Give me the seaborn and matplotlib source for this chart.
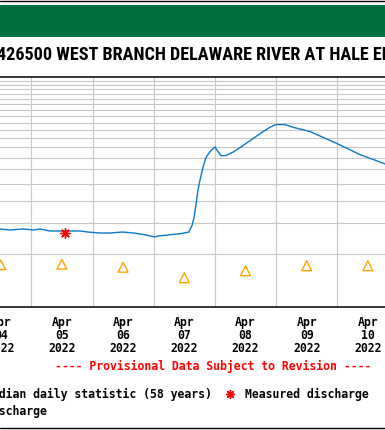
#!/usr/bin/env python3

import matplotlib
matplotlib.use('Agg')
import matplotlib.dates as mdates
from matplotlib.font_manager import FontProperties
from matplotlib.lines import Line2D
from matplotlib.patches import Rectangle
from matplotlib.ticker import FixedLocator, NullFormatter, NullLocator
import matplotlib.pyplot as plt
import pandas as pd
import seaborn as sns


W, H, DPI = 385, 430, 100

TITLE_PREFIX = 'USGS 01'
TITLE_REST = '426500 WEST BRANCH DELAWARE RIVER AT HALE EDDY NY'
PROVISIONAL = '---- Provisional Data Subject to Revision ----'

START = pd.Timestamp('2022-04-04 00:00')
END = pd.Timestamp('2022-04-11 00:00')

# Discharge, hours after Apr 4 00:00 and cubic feet per second
DISCHARGE_HOURS = [0, 11.7, 15.7, 20.8, 24.9, 27.4, 31.3, 43.1, 46.2, 50.9,
                   54.9, 59.6, 64.3, 69.0, 72.5, 73.7, 77.6, 83.1, 85.8, 86.2,
                   87.0, 87.8, 88.6, 89.4, 90.2, 91.3, 92.5, 94.1, 96.0, 97.2,
                   98.4, 100.3, 103.5, 107.0, 111.7, 114.9, 117.6, 120.0, 123.5,
                   126.6, 133.3, 143.9, 152.9, 162.7, 165.5]
DISCHARGE_CFS = [2770, 2770, 2733, 2770, 2733, 2770, 2698, 2698, 2663, 2628,
                 2628, 2663, 2628, 2562, 2496, 2529, 2562, 2615, 2663, 2744,
                 2891, 3208, 3800, 4616, 5259, 6149, 7003, 7569, 8046, 7569,
                 7188, 7188, 7569, 8185, 9120, 9820, 10385, 10754, 10754,
                 10385, 9820, 8400, 7279, 6452, 6229]

# Median daily statistic (58 years), one per day at noon
MEDIAN_DAYS = ['2022-04-04', '2022-04-05', '2022-04-06', '2022-04-07',
               '2022-04-08', '2022-04-09', '2022-04-10']
MEDIAN_CFS = [1741, 1752, 1685, 1470, 1610, 1718, 1718]

# Field measurement
MEASURED_TIME = ['2022-04-05 13:20']
MEASURED_CFS = [2615]

GRID_Y = [2000, 3000, 4000, 5000, 6000, 7000, 8000, 9000, 10000, 11000,
          12000, 13000, 14000, 15000, 16000, 17000, 18000, 19000]

BLUE = '#0a78cc'
ORANGE = '#ffa500'
RED = '#ff0000'
GREEN = '#00703c'
GRID = '#c8c8c8'


def main():
    sns.set_theme(style='white')
    plt.rcParams['font.family'] = ['DejaVu Sans Mono']
    plt.rcParams['text.color'] = 'black'
    plt.rcParams['xtick.color'] = 'black'
    mono = FontProperties(family='DejaVu Sans Mono', weight='bold', size=8.3)
    tprop = FontProperties(family='Roboto Condensed', weight='bold', size=10)

    fig = plt.figure(figsize=(W / DPI, H / DPI), dpi=DPI)
    fig.patch.set_facecolor('white')

    # header band and rules
    fig.add_artist(Rectangle((0, 1 - 36.7 / H), 1, 31.7 / H,
                             transform=fig.transFigure, color=GREEN, lw=0))
    fig.add_artist(Line2D([0, 1], [1 - 0.6 / H] * 2, transform=fig.transFigure,
                          color='black', lw=1.0))
    fig.add_artist(Line2D([0, 1], [1 - 428.3 / H] * 2,
                          transform=fig.transFigure, color='black', lw=1.0))

    # title, placed so the visible part begins where the crop shows it
    renderer = fig.canvas.get_renderer()
    probe = fig.text(0, 0, '426500 WEST BRANCH DELAWARE RIVER AT HALE',
                     fontproperties=tprop)
    tsize = 10 * 372 / probe.get_window_extent(renderer).width
    tprop.set_size(tsize)
    probe.set_fontproperties(tprop)
    probe.set_text(TITLE_PREFIX + '4')
    full = probe.get_window_extent(renderer).width
    probe.set_text('4')
    shift = full - probe.get_window_extent(renderer).width
    probe.remove()
    fig.text((-2.8 - shift) / W, 1 - 60 / H, TITLE_PREFIX + TITLE_REST,
             fontproperties=tprop, color='black', va='baseline', ha='left')

    # plot area extends past both edges of the picture
    left = -29.9 / W
    ax = fig.add_axes([left, 1 - 307.4 / H, 428.4 / W, 230.6 / H])

    discharge = pd.DataFrame({
        'time': START + pd.to_timedelta(DISCHARGE_HOURS, unit='h'),
        'cfs': DISCHARGE_CFS})
    median = pd.DataFrame({
        'time': pd.to_datetime(MEDIAN_DAYS) + pd.Timedelta(hours=12),
        'cfs': MEDIAN_CFS})
    measured = pd.DataFrame({'time': pd.to_datetime(MEASURED_TIME),
                             'cfs': MEASURED_CFS})

    sns.lineplot(ax=ax, data=discharge, x='time', y='cfs', color=BLUE,
                 lw=1.0, zorder=3)
    sns.scatterplot(ax=ax, data=median, x='time', y='cfs', marker='^', s=50,
                    facecolor='none', edgecolor=ORANGE, linewidth=1.0,
                    zorder=4)
    sns.scatterplot(ax=ax, data=measured, x='time', y='cfs',
                    marker=(8, 2, 0), s=45, color=RED, linewidth=1.0,
                    zorder=5)

    ax.set_yscale('log')
    ax.set_ylim(1000, 20000)
    ax.set_xlim(START, END)
    ax.set(xlabel='', ylabel='')

    ax.yaxis.set_major_locator(FixedLocator(GRID_Y))
    ax.yaxis.set_minor_locator(NullLocator())
    ax.yaxis.set_major_formatter(NullFormatter())
    ax.grid(axis='y', which='major', color=GRID, lw=0.8)

    noons = pd.date_range('2022-04-04 12:00', periods=7, freq='D')
    nights = pd.date_range('2022-04-05', periods=6, freq='D')
    ax.xaxis.set_major_locator(FixedLocator(mdates.date2num(noons)))
    ax.xaxis.set_minor_locator(FixedLocator(mdates.date2num(nights)))
    ax.xaxis.set_major_formatter(mdates.DateFormatter('%b\n%d\n%Y'))
    ax.grid(axis='x', which='minor', color=GRID, lw=0.8)
    ax.tick_params(axis='both', which='both', length=0)
    ax.tick_params(axis='x', pad=6, labelcolor='black')
    for lab in ax.get_xticklabels():
        lab.set_fontproperties(mono)
        lab.set_linespacing(1.0)

    for side in ax.spines.values():
        side.set_color('black')
        side.set_linewidth(1.1)

    fig.text(213 / W, 1 - 366.7 / H, PROVISIONAL, color=RED,
             fontproperties=mono, ha='center', va='center')

    handles = [
        Line2D([], [], ls='none', marker='^', ms=7, mfc='none', mec=ORANGE,
               mew=1.0, label='Median daily statistic (58 years)'),
        Line2D([], [], color=BLUE, lw=1.0, label='Discharge'),
        Line2D([], [], ls='none', marker=(8, 2, 0), ms=6.5, color=RED,
               mew=1.0, label='Measured discharge'),
    ]
    leg = ax.legend(handles=handles, ncol=2, loc='upper left',
                    bbox_to_anchor=(-41.7 / W, 1 - 382.5 / H),
                    bbox_transform=fig.transFigure, frameon=False,
                    borderpad=0, prop=mono, handlelength=1.0,
                    handletextpad=0.8, columnspacing=1.06, labelspacing=0.3)
    for txt in leg.get_texts():
        txt.set_color('black')

    fig.savefig('out.png', dpi=DPI)


if __name__ == '__main__':
    main()
